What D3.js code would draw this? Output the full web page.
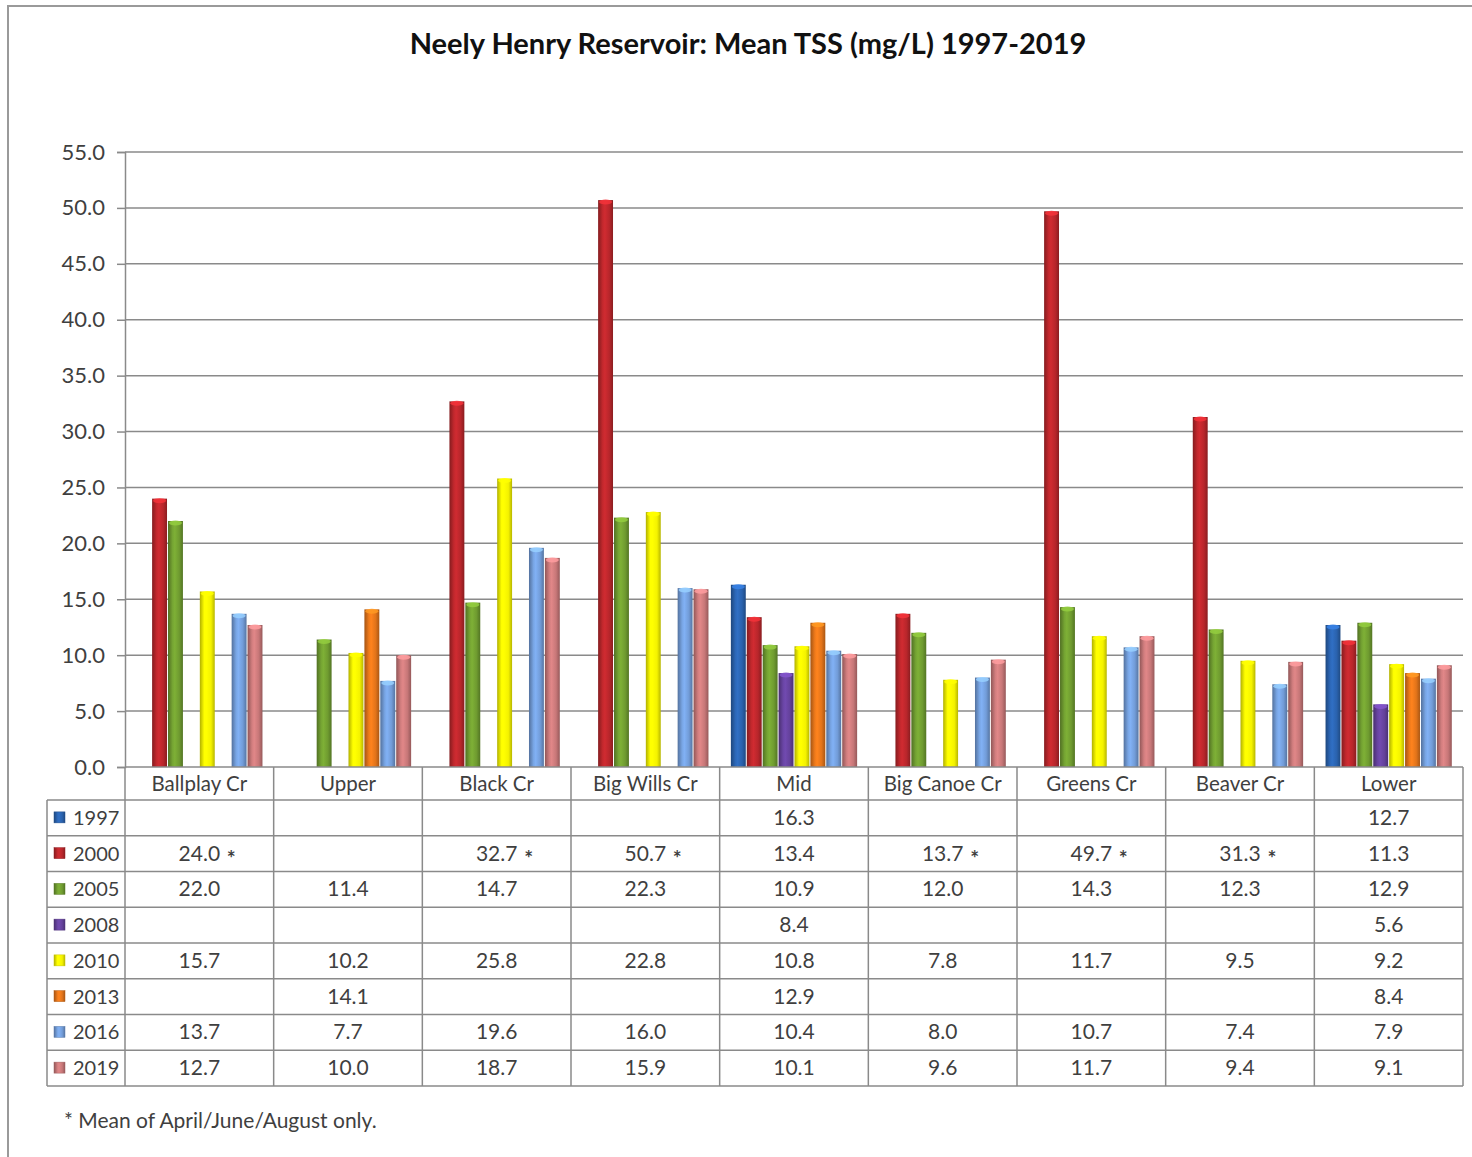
<!DOCTYPE html>
<html>
<head>
<meta charset="utf-8">
<script src="https://cdn.jsdelivr.net/npm/d3@7"></script>
<style>
  html, body { margin: 0; padding: 0; background: #fff; }
  svg { display: block; font-family: Lato, "Open Sans", "Liberation Sans", sans-serif; }
</style>
</head>
<body>
<svg id="chart" width="1472" height="1157"></svg>
<script>
// Sampling sites along the reservoir
const categories = ["Ballplay Cr", "Upper", "Black Cr", "Big Wills Cr", "Mid",
                    "Big Canoe Cr", "Greens Cr", "Beaver Cr", "Lower"];
const years = ["1997", "2000", "2005", "2008", "2010", "2013", "2016", "2019"];

// Mean TSS (mg/L) per year, one entry per site (null = not sampled)
const tss1997 = [null, null, null, null, 16.3, null, null, null, 12.7];
const tss2000 = [24.0, null, 32.7, 50.7, 13.4, 13.7, 49.7, 31.3, 11.3];
const tss2005 = [22.0, 11.4, 14.7, 22.3, 10.9, 12.0, 14.3, 12.3, 12.9];
const tss2008 = [null, null, null, null, 8.4, null, null, null, 5.6];
const tss2010 = [15.7, 10.2, 25.8, 22.8, 10.8, 7.8, 11.7, 9.5, 9.2];
const tss2013 = [null, 14.1, null, null, 12.9, null, null, null, 8.4];
const tss2016 = [13.7, 7.7, 19.6, 16.0, 10.4, 8.0, 10.7, 7.4, 7.9];
const tss2019 = [12.7, 10.0, 18.7, 15.9, 10.1, 9.6, 11.7, 9.4, 9.1];

// 2000 values that are a mean of April/June/August only
const partial2000 = [true, false, true, true, false, true, true, true, false];

const yTicks = [0, 5, 10, 15, 20, 25, 30, 35, 40, 45, 50, 55];
const seriesColors = ["#2a62ad", "#b8262b", "#6f9b30", "#64419b", "#f4f200", "#e2741a", "#729cd8", "#c77778"];

const seriesValues = [tss1997, tss2000, tss2005, tss2008, tss2010, tss2013, tss2016, tss2019];
const series = years.map((y, i) => ({
  year: y, color: seriesColors[i], values: seriesValues[i],
  starred: y === "2000" ? partial2000 : categories.map(() => false)
}));

const svg = d3.select("#chart");
const textColor = "#3f3f3f";
const lineColor = "#8a8a8a";

// Outer chart frame (top and left edges)
svg.append("path")
  .attr("d", "M8,1157 L8,6 L1472,6")
  .attr("fill", "none").attr("stroke", "#9a9a9a").attr("stroke-width", 2);

// Title
svg.append("text")
  .attr("x", 748).attr("y", 54)
  .attr("text-anchor", "middle")
  .attr("font-size", 29).attr("font-weight", "bold").attr("fill", "#111")
  .text("Neely Henry Reservoir: Mean TSS (mg/L) 1997-2019");

// Scales
const plotLeft = 125, plotRight = 1463, plotTop = 152, plotBottom = 767;
const y = d3.scaleLinear().domain([0, 55]).range([plotBottom, plotTop]);
const x0 = d3.scaleBand().domain(categories).range([plotLeft, plotRight]);
const bw = x0.bandwidth();
const x1 = d3.scaleBand().domain(years).range([bw * 0.072, bw * 0.928]);

// Gradients giving each bar a rounded, cylinder look
const defs = svg.append("defs");
series.forEach((s, i) => {
  const c = d3.color(s.color);
  const g = defs.append("linearGradient").attr("id", "grad" + i)
    .attr("x1", "0%").attr("x2", "100%").attr("y1", "0%").attr("y2", "0%");
  g.append("stop").attr("offset", "0%").attr("stop-color", c.darker(0.9));
  g.append("stop").attr("offset", "30%").attr("stop-color", c.brighter(0.15));
  g.append("stop").attr("offset", "45%").attr("stop-color", c.brighter(0.35));
  g.append("stop").attr("offset", "75%").attr("stop-color", c);
  g.append("stop").attr("offset", "100%").attr("stop-color", c.darker(0.8));
});

// Horizontal gridlines
svg.append("g").selectAll("line").data(yTicks.filter(t => t > 0)).join("line")
  .attr("x1", plotLeft).attr("x2", plotRight)
  .attr("y1", d => y(d)).attr("y2", d => y(d))
  .attr("stroke", lineColor).attr("stroke-width", 1.5);

// Y axis
const yAxis = d3.axisLeft(y).tickValues(yTicks).tickFormat(d3.format(".1f")).tickSize(8).tickPadding(12);
const yg = svg.append("g").attr("transform", `translate(${plotLeft},0)`).call(yAxis);
yg.select(".domain").attr("stroke", lineColor).attr("stroke-width", 1.5);
yg.selectAll(".tick line").attr("stroke", lineColor).attr("stroke-width", 1.5);
yg.selectAll(".tick text").attr("font-size", 22).attr("fill", textColor)
  .attr("font-family", "Lato, 'Open Sans', sans-serif");

// Bars
const groups = svg.append("g").selectAll("g").data(categories).join("g")
  .attr("transform", d => `translate(${x0(d)},0)`);
groups.each(function(cat, ci) {
  const g = d3.select(this);
  const pts = series.map((s, si) => ({ s, si, v: s.values[ci] })).filter(d => d.v != null);
  g.selectAll("rect").data(pts).join("rect")
    .attr("x", d => x1(d.s.year) + 0.5)
    .attr("width", x1.bandwidth() - 1)
    .attr("y", d => y(d.v))
    .attr("height", d => y(0) - y(d.v))
    .attr("fill", d => `url(#grad${d.si})`);
  g.selectAll("ellipse").data(pts).join("ellipse")
    .attr("cx", d => x1(d.s.year) + x1.bandwidth() / 2)
    .attr("cy", d => y(d.v) + 2)
    .attr("rx", x1.bandwidth() / 2 - 1.5)
    .attr("ry", 2.5)
    .attr("fill", d => d3.color(d.s.color).brighter(0.8))
    .attr("opacity", 0.85);
});

// Data table beneath the plot
const tableLeft = 47;
const headerBottom = 800;
const rowH = (1086 - headerBottom) / years.length;
const rowY = i => headerBottom + i * rowH;
const colEdges = categories.map(c => x0(c)).concat([plotRight]);
const table = svg.append("g");

// Horizontal rules
table.selectAll("line.h").data(d3.range(years.length + 1)).join("line")
  .attr("class", "h")
  .attr("x1", tableLeft).attr("x2", plotRight)
  .attr("y1", rowY).attr("y2", rowY)
  .attr("stroke", lineColor).attr("stroke-width", 1.5);
table.append("line")
  .attr("x1", plotLeft).attr("x2", plotRight)
  .attr("y1", plotBottom).attr("y2", plotBottom)
  .attr("stroke", lineColor).attr("stroke-width", 1.5);
// Vertical rules
table.selectAll("line.v").data(colEdges).join("line")
  .attr("class", "v")
  .attr("x1", d => d).attr("x2", d => d)
  .attr("y1", plotBottom).attr("y2", rowY(years.length))
  .attr("stroke", lineColor).attr("stroke-width", 1.5);
table.append("line")
  .attr("x1", tableLeft).attr("x2", tableLeft)
  .attr("y1", headerBottom).attr("y2", rowY(years.length))
  .attr("stroke", lineColor).attr("stroke-width", 1.5);

// Category header labels
table.selectAll("text.cat").data(categories).join("text")
  .attr("class", "cat")
  .attr("x", d => x0(d) + bw / 2).attr("y", (plotBottom + headerBottom) / 2 + 7)
  .attr("text-anchor", "middle").attr("font-size", 20.5).attr("fill", textColor)
  .text(d => d);

// Legend keys and year labels
series.forEach((s, i) => {
  const cy = rowY(i) + rowH / 2;
  table.append("rect")
    .attr("x", 54).attr("y", cy - 6).attr("width", 11).attr("height", 11)
    .attr("fill", `url(#grad${i})`).attr("stroke", d3.color(s.color).darker(0.6)).attr("stroke-width", 0.5);
  table.append("text")
    .attr("x", 73).attr("y", cy + 7)
    .attr("font-size", 20).attr("fill", textColor)
    .text(s.year);

  // Cell values
  s.values.forEach((v, ci) => {
    if (v == null) return;
    const cx = x0(categories[ci]) + bw / 2;
    table.append("text")
      .attr("x", cx).attr("y", cy + 7)
      .attr("text-anchor", "middle").attr("font-size", 21).attr("fill", textColor)
      .text(d3.format(".1f")(v));
    if (s.starred[ci]) {
      table.append("text")
        .attr("x", cx + 32).attr("y", cy + 12)
        .attr("text-anchor", "middle").attr("font-size", 21).attr("font-weight", "bold")
        .attr("fill", textColor)
        .text("*");
    }
  });
});

// Footnote
svg.append("text")
  .attr("x", 64).attr("y", 1128)
  .attr("font-size", 21).attr("fill", textColor)
  .text("* Mean of April/June/August only.");
</script>
</body>
</html>
